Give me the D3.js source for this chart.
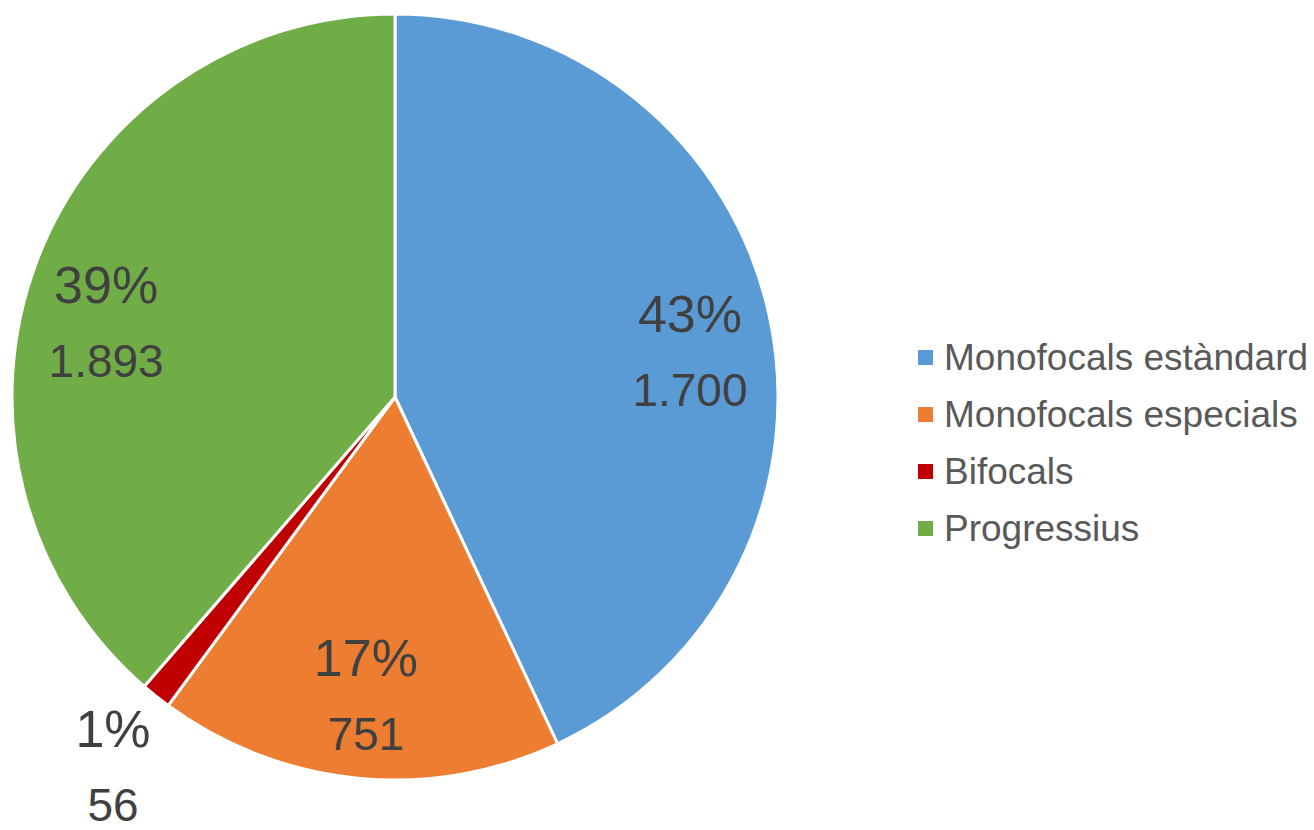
<!DOCTYPE html>
<html>
<head>
<meta charset="utf-8">
<script src="https://cdn.jsdelivr.net/npm/d3@7"></script>
<style>
  body { margin: 0; background: #fff; }
  svg { display: block; font-family: "Liberation Sans", Arial, sans-serif; }
</style>
</head>
<body>
<svg id="chart" width="1314" height="830"></svg>
<script>
// categories and values (slice shares as drawn, labels as printed)
const categories = ["Monofocals estàndard", "Monofocals especials", "Bifocals", "Progressius"];
const shares = [1893, 751, 56, 1700];
const pctLabels = ["43%", "17%", "1%", "39%"];
const valueLabels = ["1.700", "751", "56", "1.893"];
const colors = ["#5B9BD5", "#ED7D31", "#C00000", "#70AD47"];

const svg = d3.select("#chart");
const cx = 395, cy = 397, R = 383;

const rows = categories.map((c, i) => ({ cat: c, value: shares[i], pct: pctLabels[i], num: valueLabels[i], color: colors[i] }));
const total = d3.sum(shares);

const pie = d3.pie().sort(null).value(d => d.value);
const arcs = pie(rows);

const arc = d3.arc().innerRadius(0).outerRadius(R);
const inLabel = d3.arc().innerRadius(R * 0.78).outerRadius(R * 0.78);
const outLabel = d3.arc().innerRadius(R * 1.23).outerRadius(R * 1.23);

const g = svg.append("g").attr("transform", `translate(${cx},${cy})`);

g.selectAll("path.slice")
  .data(arcs)
  .join("path")
  .attr("class", "slice")
  .attr("d", arc)
  .attr("fill", d => d.data.color)
  .attr("stroke", "#fff")
  .attr("stroke-width", 3)
  .attr("stroke-linejoin", "round");

// label anchor: centroid, upper labels pulled toward the horizontal (best-fit look)
function labelPos(d) {
  const small = d.data.value / total < 0.05;
  let [x, y] = (small ? outLabel : inLabel).centroid(d);
  if (!small && y < 0) {
    const r = Math.hypot(x, y);
    y *= 0.73;
    x = Math.sign(x) * Math.sqrt(r * r - y * y);
  }
  if (small) x += 12;
  return [x, y];
}

const labels = g.selectAll("g.lbl")
  .data(arcs)
  .join("g")
  .attr("class", "lbl")
  .attr("transform", d => `translate(${labelPos(d)})`);

labels.append("text")
  .attr("text-anchor", "middle")
  .attr("y", -18)
  .attr("font-size", 52)
  .attr("fill", "#404040")
  .text(d => d.data.pct);

labels.append("text")
  .attr("text-anchor", "middle")
  .attr("y", 56)
  .attr("font-size", 46)
  .attr("fill", "#404040")
  .text(d => d.data.num);

// legend
const legend = svg.append("g").attr("transform", "translate(918,370)");
const item = legend.selectAll("g")
  .data(rows)
  .join("g")
  .attr("transform", (d, i) => `translate(0,${i * 57})`);

item.append("rect")
  .attr("x", 0)
  .attr("y", -20)
  .attr("width", 15)
  .attr("height", 15)
  .attr("fill", d => d.color);

item.append("text")
  .attr("x", 26)
  .attr("y", 0)
  .attr("font-size", 37)
  .attr("fill", "#595959")
  .text(d => d.cat);
</script>
</body>
</html>
